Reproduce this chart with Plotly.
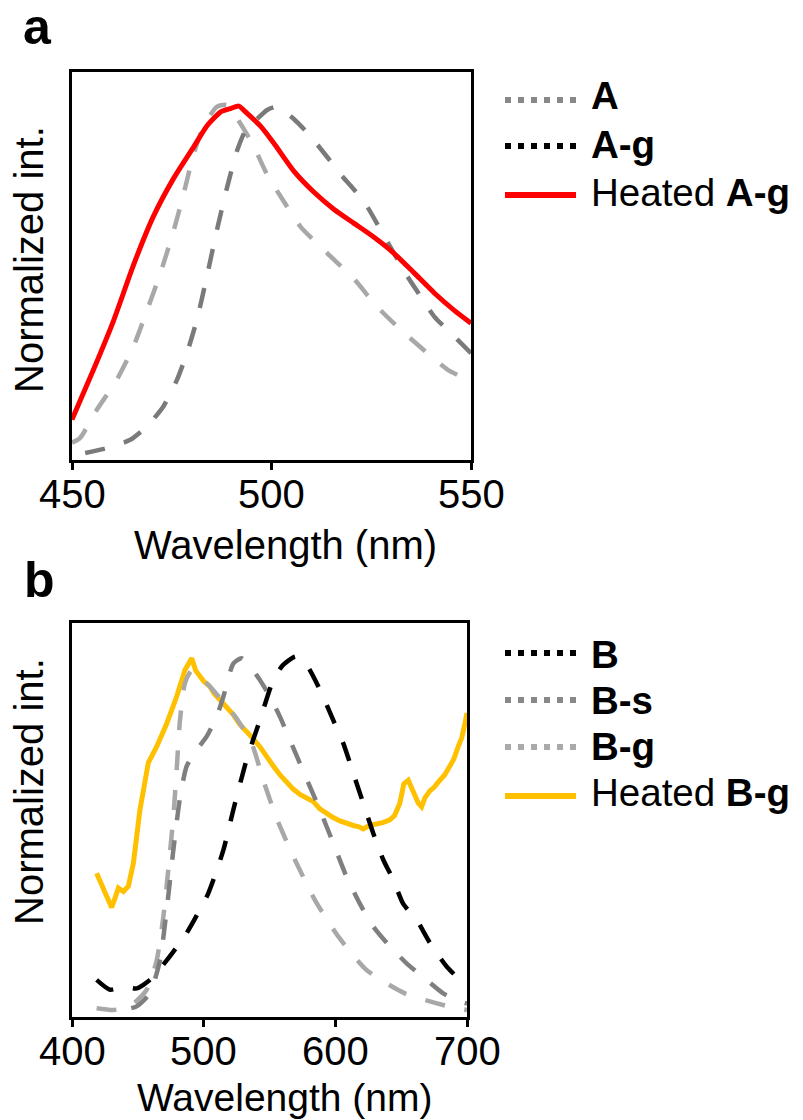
import plotly.graph_objects as go

# ---------------- Panel a data ----------------
wl_a_A = [450, 452, 456.2, 461.2, 465.4, 468.8, 472.1, 475.5, 478, 480.5, 483, 486.3, 488.9,
          492.2, 495.6, 498.9, 502.3, 507.3, 514, 520.7, 526.5, 532.4, 539.1, 544.1, 550]
int_a_A = [0.03, 0.043, 0.124, 0.21, 0.306, 0.41, 0.515, 0.64, 0.746, 0.86, 0.94, 0.995, 1.0,
           0.947, 0.88, 0.80, 0.737, 0.65, 0.574, 0.5, 0.42, 0.354, 0.287, 0.24, 0.206]

wl_a_Ag = [453.3, 458.7, 464.6, 468.8, 472.9, 476.3, 478.8, 481.3, 483.8, 486.3, 488.9, 491.4,
           493.5, 495.5, 498.9, 501.4, 505.6, 509.8, 514, 517.4, 521.5, 524, 527.4, 530.7,
           534.1, 537.4, 540.8, 545.8, 550]
int_a_Ag = [0.0, 0.014, 0.038, 0.077, 0.134, 0.21, 0.287, 0.383, 0.507, 0.64, 0.765, 0.87,
            0.928, 0.95, 0.986, 0.995, 0.96, 0.91, 0.85, 0.80, 0.746, 0.708, 0.64, 0.574,
            0.507, 0.45, 0.392, 0.335, 0.287]

wl_a_heated = [450, 455.4, 460.4, 465.4, 470.4, 475.5, 480.5, 483.8, 487.2, 489.7, 491.8, 493.9,
               497.2, 500.6, 505.6, 510.6, 515.7, 520.7, 525.7, 530.7, 535.8, 540.8, 545.8, 550]
int_a_heated = [0.096, 0.24, 0.38, 0.54, 0.68, 0.79, 0.88, 0.94, 0.98, 0.99, 0.997, 0.976,
                0.94, 0.89, 0.81, 0.75, 0.70, 0.66, 0.62, 0.574, 0.517, 0.46, 0.41, 0.373]

# ---------------- Panel b data ----------------
wl_b_B = [418.7, 428.9, 439, 449.1, 459.2, 471.9, 487, 503.5, 515, 522.5, 532.6, 542.7, 552.9,
          560, 570, 578.2, 588.3, 598.4, 606, 613.6, 621.2, 628.8, 636.4, 644, 651.6, 661.7,
          671.8, 684.5, 700]
int_b_B = [0.085, 0.057, 0.066, 0.061, 0.085, 0.14, 0.217, 0.33, 0.453, 0.566, 0.708, 0.82, 0.934,
           0.975, 1.0, 0.976, 0.906, 0.82, 0.755, 0.67, 0.585, 0.5, 0.425, 0.368, 0.30, 0.255,
           0.19, 0.123, 0.066]

wl_b_Bs = [445, 449.1, 459.2, 466.8, 471.9, 477, 482, 487.1, 494.7, 502.3, 509.9, 515, 522.5,
           528.8, 535.2, 542.7, 550.3, 557.9, 565.5, 573.1, 580.7, 588.3, 598.4, 608.5, 618.7,
           628.8, 641.4, 654.1, 669.3, 681.9, 694.6, 700]
int_b_Bs = [0.005, 0.01, 0.047, 0.14, 0.283, 0.453, 0.60, 0.69, 0.736, 0.774, 0.83, 0.887, 0.98,
            0.995, 0.972, 0.934, 0.887, 0.83, 0.764, 0.698, 0.632, 0.566, 0.472, 0.377, 0.30,
            0.236, 0.18, 0.132, 0.085, 0.047, 0.024, 0.018]

wl_b_Bg = [418.7, 431.4, 444, 456.7, 464.3, 469.4, 473.1, 477, 479.5, 482, 485.8, 490.9, 497.2,
           504.8, 513.6, 524, 536.4, 545.3, 555.4, 569.3, 584.5, 602.2, 623.7, 652.8, 687, 700]
int_b_Bg = [0.005, 0.0, 0.01, 0.057, 0.14, 0.264, 0.396, 0.547, 0.68, 0.82, 0.925, 0.96, 0.943,
            0.915, 0.877, 0.83, 0.755, 0.65, 0.542, 0.425, 0.311, 0.208, 0.113, 0.047, 0.009, 0.0]

wl_b_heated = [418.7, 423.8, 430.1, 433, 435.2, 439, 442.8, 446.6, 451.6, 458, 464.3, 471.9,
               479.5, 485.8, 490.9, 494, 497.2, 500, 504.8, 508, 512.5, 517, 522.6, 527, 532.6,
               537, 542.7, 547, 552.9, 558, 563, 568, 573.1, 578, 583.2, 588, 593.4, 598, 603.5,
               608, 613.6, 618, 621.2, 626, 631.3, 636, 641.4, 645, 649, 652, 655.4, 658, 660.4,
               663, 665.5, 668, 671.8, 675, 679.4, 683, 687, 690, 693.3, 696, 698.4, 700]
int_b_heated = [0.387, 0.34, 0.29, 0.32, 0.345, 0.335, 0.35, 0.415, 0.566, 0.70, 0.745, 0.81,
                0.887, 0.962, 0.995, 0.96, 0.945, 0.93, 0.915, 0.895, 0.877, 0.86, 0.835, 0.81,
                0.79, 0.77, 0.745, 0.72, 0.69, 0.665, 0.645, 0.625, 0.61, 0.60, 0.59, 0.57,
                0.555, 0.545, 0.535, 0.528, 0.522, 0.518, 0.512, 0.522, 0.526, 0.53, 0.538,
                0.55, 0.585, 0.64, 0.65, 0.625, 0.61, 0.585, 0.575, 0.60, 0.62, 0.63, 0.65,
                0.665, 0.69, 0.71, 0.745, 0.77, 0.81, 0.84]

# tick values / labels
ticks_a = [450, 500, 550]
ticks_b = [400, 500, 600, 700]

# legend labels
legend_a = ["<b>A</b>", "<b>A-g</b>", "Heated <b>A-g</b>"]
legend_b = ["<b>B</b>", "<b>B-s</b>", "<b>B-g</b>", "Heated <b>B-g</b>"]

W, H = 803, 1120
FONT = "Liberation Sans, Arial, sans-serif"
DASH = "20px,20px"

def px(x):
    return x / W

def py(y):
    return 1 - y / H

fig = go.Figure()

# panel a traces
fig.add_trace(go.Scatter(x=wl_a_A, y=int_a_A, mode="lines", xaxis="x", yaxis="y",
                         line=dict(color="#a8a8a8", width=4.5, dash=DASH, shape="spline", smoothing=0.6),
                         showlegend=False))
fig.add_trace(go.Scatter(x=wl_a_Ag, y=int_a_Ag, mode="lines", xaxis="x", yaxis="y",
                         line=dict(color="#7a7a7a", width=4.5, dash=DASH, shape="spline", smoothing=0.6),
                         showlegend=False))
fig.add_trace(go.Scatter(x=wl_a_heated, y=int_a_heated, mode="lines", xaxis="x", yaxis="y",
                         line=dict(color="#ff0000", width=5, shape="spline", smoothing=0.5),
                         showlegend=False))

# panel b traces
fig.add_trace(go.Scatter(x=wl_b_heated, y=int_b_heated, mode="lines", xaxis="x2", yaxis="y2",
                         line=dict(color="#ffc000", width=5),
                         showlegend=False))
fig.add_trace(go.Scatter(x=wl_b_Bg, y=int_b_Bg, mode="lines", xaxis="x2", yaxis="y2",
                         line=dict(color="#a8a8a8", width=4.5, dash=DASH, shape="spline", smoothing=0.6),
                         showlegend=False))
fig.add_trace(go.Scatter(x=wl_b_Bs, y=int_b_Bs, mode="lines", xaxis="x2", yaxis="y2",
                         line=dict(color="#7f7f7f", width=4.5, dash=DASH, shape="spline", smoothing=0.6),
                         showlegend=False))
fig.add_trace(go.Scatter(x=wl_b_B, y=int_b_B, mode="lines", xaxis="x2", yaxis="y2",
                         line=dict(color="#000000", width=4.5, dash=DASH, shape="spline", smoothing=0.6),
                         showlegend=False))

axis_common = dict(showline=True, linewidth=3, linecolor="black", mirror=True,
                   showgrid=False, zeroline=False, automargin=False)

fig.update_layout(
    width=W, height=H,
    margin=dict(l=0, r=0, t=0, b=0, autoexpand=False),
    paper_bgcolor="white", plot_bgcolor="white",
    font=dict(family=FONT, color="black"),
    xaxis=dict(domain=[px(72), px(471)], anchor="y", range=[450, 550],
               tickvals=ticks_a, ticks="outside", ticklen=7, tickwidth=3, tickcolor="black",
               showticklabels=False, **axis_common),
    yaxis=dict(domain=[py(460), py(72)], anchor="x", range=[-0.02, 1.095],
               showticklabels=False, ticks="", **axis_common),
    xaxis2=dict(domain=[px(72), px(467)], anchor="y2", range=[400, 700],
                tickvals=ticks_b, ticks="outside", ticklen=7, tickwidth=3, tickcolor="black",
                showticklabels=False, **axis_common),
    yaxis2=dict(domain=[py(1017), py(623)], anchor="x2", range=[-0.02, 1.095],
                showticklabels=False, ticks="", **axis_common),
)

annotations = []
shapes = []

def add_text(text, x, y, size, xanchor="center", angle=0):
    annotations.append(dict(text=text, x=px(x), y=py(y), xref="paper", yref="paper",
                            xanchor=xanchor, yanchor="middle", showarrow=False,
                            textangle=angle, font=dict(size=size, family=FONT, color="black")))

# tick labels placed at their data positions on each x axis
for t in ticks_a:
    annotations.append(dict(text=str(t), x=t, xref="x", y=py(494), yref="paper",
                            xanchor="center", yanchor="middle", showarrow=False,
                            font=dict(size=40, family=FONT, color="black")))
for t in ticks_b:
    annotations.append(dict(text=str(t), x=t, xref="x2", y=py(1051), yref="paper",
                            xanchor="center", yanchor="middle", showarrow=False,
                            font=dict(size=40, family=FONT, color="black")))

# panel labels
add_text("<b>a</b>", 37, 27, 50)
add_text("<b>b</b>", 39, 580, 50)

# axis titles
add_text("Wavelength (nm)", 285, 545, 40)
add_text("Wavelength (nm)", 285, 1097, 39)
add_text("Normalized int.", 29, 260, 40, angle=-90)
add_text("Normalized int.", 29, 792, 40, angle=-90)

# legends
def legend_row(label, y_text, y_line, color, dash, width):
    shapes.append(dict(type="line", xref="paper", yref="paper",
                       x0=px(505), x1=px(576), y0=py(y_line), y1=py(y_line),
                       line=dict(color=color, width=width, dash=dash)))
    add_text(label, 589, y_text, 38.5, xanchor="left")

legend_a_colors = ["#888888", "#000000", "#ff0000"]
legend_a_y = [95.5, 144.5, 193]
legend_a_line_y = [100, 146, 195]
for lab, yt, yl, c in zip(legend_a, legend_a_y, legend_a_line_y, legend_a_colors):
    if c == "#ff0000":
        legend_row(lab, yt, yl, c, "solid", 6)
    else:
        legend_row(lab, yt, yl, c, "6px,7px", 6)

legend_b_colors = ["#000000", "#888888", "#aaaaaa", "#ffc000"]
legend_b_y = [654, 700, 746.5, 792]
legend_b_line_y = [653, 700, 747, 796]
for lab, yt, yl, c in zip(legend_b, legend_b_y, legend_b_line_y, legend_b_colors):
    if c == "#ffc000":
        legend_row(lab, yt, yl, c, "solid", 6)
    else:
        legend_row(lab, yt, yl, c, "6px,7px", 6)

fig.update_layout(annotations=annotations, shapes=shapes)

fig.write_html("out.html")
